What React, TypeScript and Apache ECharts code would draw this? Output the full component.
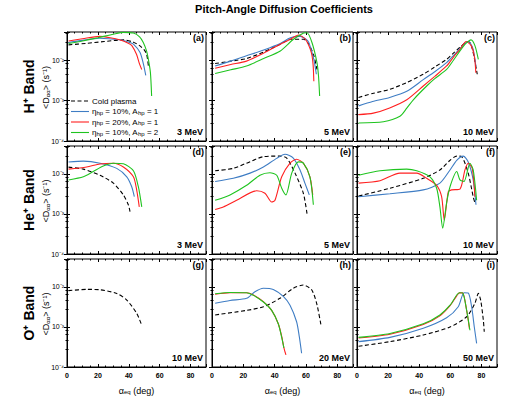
import React, { useEffect, useRef } from 'react';
import * as echarts from 'echarts';

const TITLE = 'Pitch-Angle Diffusion Coefficients';
const PANEL_LABELS = ['(a)', '(b)', '(c)', '(d)', '(e)', '(f)', '(g)', '(h)', '(i)'];
const ENERGIES = ['3 MeV', '5 MeV', '10 MeV', '3 MeV', '5 MeV', '10 MeV', '10 MeV', '20 MeV', '50 MeV'];
const ROW_LABELS = ['H⁺ Band', 'He⁺ Band', 'O⁺ Band'];
const SERIES_NAMES = ['Cold plasma', 'eta10A1', 'eta20A1', 'eta10A2'];
const LEGEND_TEXT = [
  'Cold plasma',
  'η{sub|hp} = 10%, A{sub|hp} = 1',
  'η{sub|hp} = 20%, A{sub|hp} = 1',
  'η{sub|hp} = 10%, A{sub|hp} = 2',
];
const Y_TICK_TEXT: Record<string, string> = { '-4': '10⁻⁴', '-3': '10⁻³', '-2': '10⁻²' };

// [pitch angle (deg), <D_aa> (s^-1)]
// (a) H+ band, 3 MeV
const A_COLD = [[1, 0.024], [12, 0.026], [24, 0.029], [36.5, 0.032], [43, 0.028], [47, 0.023], [50, 0.018], [51.6, 0.014], [52.7, 0.0072]];
const A_ETA10A1 = [[1, 0.0275], [10, 0.031], [21, 0.035], [34, 0.032], [40, 0.028], [43, 0.025], [47.3, 0.0155], [49.5, 0.008], [51, 0.0042]];
const A_ETA20A1 = [[1, 0.03], [10, 0.034], [21, 0.039], [28, 0.036], [34, 0.032], [40, 0.026], [42, 0.023], [45, 0.014], [47, 0.008], [48.4, 0.0059]];
const A_ETA10A2 = [[1, 0.026], [10, 0.03], [20, 0.036], [30, 0.044], [36.5, 0.049], [43, 0.047], [47, 0.038], [49.4, 0.0275], [51.5, 0.017], [52.7, 0.0105], [54, 0.005], [54.8, 0.0013]];
// (b) H+ band, 5 MeV
const B_COLD = [[2, 0.0083], [12, 0.0095], [22, 0.011], [33, 0.016], [43.6, 0.025], [50, 0.033], [58.5, 0.033], [61.8, 0.025], [65, 0.0129], [67, 0.0059]];
const B_ETA10A1 = [[2, 0.0072], [12, 0.0095], [22, 0.0129], [33, 0.018], [43.6, 0.026], [50, 0.036], [56.4, 0.039], [60, 0.033], [61.8, 0.0275], [65, 0.0105], [66.6, 0.0045]];
const B_ETA20A1 = [[2, 0.0063], [12, 0.0078], [22, 0.0095], [33, 0.015], [43.6, 0.025], [50, 0.033], [55.3, 0.042], [59.6, 0.033], [63.4, 0.0155], [64.5, 0.008], [65, 0.003]];
const B_ETA10A2 = [[2, 0.0047], [12, 0.0058], [22, 0.0072], [33, 0.011], [43.6, 0.017], [52, 0.033], [58.5, 0.047], [60.6, 0.048], [63.8, 0.0275], [67, 0.0087], [68, 0.004], [68.7, 0.0013]];
// (c) H+ band, 10 MeV
const C_COLD = [[1, 0.0012], [10, 0.0015], [21, 0.0019], [32, 0.0028], [42.6, 0.0045], [50, 0.0068], [57.6, 0.0105], [62, 0.015], [66.2, 0.021], [71.5, 0.029], [73, 0.026], [74.7, 0.0155], [77.3, 0.0045]];
const C_ETA10A1 = [[1, 0.00074], [10, 0.00095], [21, 0.0012], [32, 0.0017], [42.6, 0.0033], [50, 0.0052], [57.6, 0.0087], [62, 0.013], [66.2, 0.0195], [71.5, 0.029], [73, 0.026], [74.7, 0.0186], [76.4, 0.0072]];
const C_ETA20A1 = [[1, 0.00045], [10.5, 0.00049], [21, 0.00066], [32, 0.00105], [42.6, 0.0023], [50, 0.004], [57.6, 0.0072], [62, 0.012], [66.2, 0.0186], [70.2, 0.029], [73.4, 0.023], [75.5, 0.012], [76.4, 0.0049]];
const C_ETA10A2 = [[1, 0.00028], [17, 0.0003], [27.6, 0.00041], [32, 0.00065], [36.2, 0.00105], [44.8, 0.0023], [50, 0.0035], [57.6, 0.0059], [62, 0.01], [66.2, 0.017], [70, 0.026], [73.3, 0.032], [75.8, 0.023], [78, 0.0105]];
// (d) He+ band, 3 MeV
const D_COLD = [[1, 0.0148], [10.6, 0.0132], [21.4, 0.0093], [30, 0.0059], [36.5, 0.003], [39.7, 0.0017], [40.8, 0.00115]];
const D_ETA10A1 = [[1, 0.02], [10.6, 0.021], [21.4, 0.0186], [32.2, 0.0138], [38.7, 0.0085], [41.9, 0.0048], [43.6, 0.0027]];
const D_ETA20A1 = [[1, 0.0132], [12.7, 0.015], [21.4, 0.0178], [30, 0.0186], [36.5, 0.015], [43, 0.0085], [45.1, 0.004], [46.8, 0.0015]];
const D_ETA10A2 = [[1, 0.0071], [10.6, 0.0085], [17, 0.0115], [23.5, 0.0158], [30, 0.0186], [36.5, 0.018], [43, 0.012], [46.2, 0.0048], [48.4, 0.0015]];
// (e) He+ band, 5 MeV
const E_COLD = [[2, 0.012], [13.6, 0.0138], [22, 0.0186], [32.8, 0.027], [43.4, 0.028], [47.7, 0.025], [53, 0.0105], [58.3, 0.0033], [60.8, 0.00093]];
const E_ETA10A1 = [[2, 0.0065], [13.6, 0.0078], [24.3, 0.0105], [32.8, 0.015], [41.3, 0.0245], [46.6, 0.031], [51.9, 0.025], [56.2, 0.0126], [59.3, 0.0059], [62.1, 0.003]];
const E_ETA20A1 = [[2, 0.0013], [7.2, 0.0015], [15.7, 0.0022], [28.5, 0.0038], [33.8, 0.0033], [38.1, 0.002], [40.2, 0.0022], [44.5, 0.0085], [49.8, 0.0186], [54, 0.0234], [58.3, 0.0186], [62.5, 0.0085], [64.3, 0.003]];
const E_ETA10A2 = [[2, 0.0022], [11.5, 0.003], [22.1, 0.0052], [30.6, 0.0093], [37, 0.0107], [41.3, 0.0093], [44.5, 0.0044], [47.2, 0.003], [50.9, 0.0105], [55.1, 0.02], [58.3, 0.0186], [62.5, 0.0085], [64.7, 0.0017]];
// (f) He+ band, 10 MeV
const F_COLD = [[1, 0.0028], [21.2, 0.0044], [42.6, 0.0078], [53.3, 0.0126], [59.8, 0.022], [64.1, 0.028], [67.3, 0.027], [71.5, 0.0105], [74.7, 0.0027], [75.8, 0.0019]];
const F_ETA10A1 = [[1, 0.0027], [21.2, 0.0032], [42.6, 0.004], [53.3, 0.0059], [59.8, 0.0126], [64.1, 0.022], [68.3, 0.028], [71.5, 0.02], [74.7, 0.0071], [76.5, 0.0017]];
const F_ETA20A1 = [[1, 0.0059], [14.8, 0.0068], [27.6, 0.0105], [38.4, 0.0105], [44.8, 0.0078], [51.2, 0.0052], [54.4, 0.0027], [56.1, 0.0007], [58.7, 0.0036], [60.8, 0.004], [66.2, 0.0042], [69.4, 0.0126], [71.5, 0.0186], [74.1, 0.0138], [75.8, 0.0027]];
const F_ETA10A2 = [[1, 0.0093], [14.8, 0.012], [31.9, 0.0132], [38.4, 0.012], [46.9, 0.0085], [51.2, 0.0044], [53.3, 0.0015], [55.1, 0.00044], [57.6, 0.0019], [59.8, 0.0048], [64.1, 0.0115], [66.2, 0.0071], [68.8, 0.0065], [72.6, 0.0186], [74.7, 0.0126], [76.9, 0.0022]];
// (g) O+ band, 10 MeV
const G_COLD = [[1, 0.0081], [12.7, 0.0087], [21.4, 0.0085], [32.2, 0.0069], [38.7, 0.0047], [45.1, 0.0022], [48.4, 0.0011]];
// (h) O+ band, 20 MeV
const H_COLD = [[2, 0.002], [22.1, 0.0026], [32.8, 0.0032], [43.4, 0.0052], [51.9, 0.0093], [58.3, 0.0112], [63.6, 0.0085], [66.8, 0.0039], [69.6, 0.0011]];
const H_ETA10A1 = [[2, 0.0039], [11.5, 0.0046], [22.1, 0.0052], [27.4, 0.0076], [32.8, 0.0093], [39.1, 0.0087], [45.5, 0.0058], [49.8, 0.0035], [54, 0.00135], [55.7, 0.00058], [57.2, 0.00022]];
const H_ETA20A1 = [[2, 0.0066], [11.5, 0.0072], [22.1, 0.0072], [26.4, 0.0063], [32.8, 0.0043], [38.1, 0.0026], [42.3, 0.0012], [44.5, 0.00058], [45.9, 0.0003], [47.2, 0.0002]];
const H_ETA10A2 = [[2, 0.0068], [11.5, 0.0073], [22.1, 0.0072], [26.4, 0.0062], [32.8, 0.0042], [38.1, 0.0026], [42.3, 0.0012], [44.5, 0.00055], [45.9, 0.0003]];
// (i) O+ band, 50 MeV
const I_COLD = [[1, 0.00033], [21.2, 0.00043], [42.6, 0.00063], [59.8, 0.001], [70.5, 0.0018], [75.8, 0.0039], [78, 0.0069], [79.5, 0.0047], [81.2, 0.0015], [81.8, 0.00076]];
const I_ETA10A1 = [[1, 0.00043], [21.2, 0.00055], [42.6, 0.00093], [57.6, 0.0017], [65.1, 0.0032], [68.8, 0.0072], [71.5, 0.0071], [73.7, 0.0032], [75.4, 0.001], [76.9, 0.00039]];
const I_ETA20A1 = [[1, 0.00053], [21.2, 0.00066], [42.6, 0.00115], [53.3, 0.0019], [59.8, 0.0034], [64.1, 0.006], [65.8, 0.0071], [67.9, 0.0071], [70.5, 0.0026], [72.3, 0.0009]];
const I_ETA10A2 = [[1, 0.00055], [21.2, 0.00069], [42.6, 0.0012], [53.3, 0.002], [59.8, 0.0035], [64.1, 0.0063], [65.8, 0.0072], [67.9, 0.0071], [70.5, 0.0026], [72.6, 0.00083]];

const PANELS: (number[][] | null)[][] = [
  [A_COLD, A_ETA10A1, A_ETA20A1, A_ETA10A2],
  [B_COLD, B_ETA10A1, B_ETA20A1, B_ETA10A2],
  [C_COLD, C_ETA10A1, C_ETA20A1, C_ETA10A2],
  [D_COLD, D_ETA10A1, D_ETA20A1, D_ETA10A2],
  [E_COLD, E_ETA10A1, E_ETA20A1, E_ETA10A2],
  [F_COLD, F_ETA10A1, F_ETA20A1, F_ETA10A2],
  [G_COLD, null, null, null],
  [H_COLD, H_ETA10A1, H_ETA20A1, H_ETA10A2],
  [I_COLD, I_ETA10A1, I_ETA20A1, I_ETA10A2],
];

const FONT = '"Liberation Sans", Arial, Helvetica, sans-serif';
const COLORS = ['#000000', '#3f7dc4', '#ff2020', '#1fc41f'];
const DASH = [4, 2.5];
const LEFTS = [67, 212, 357];
const WIDTHS = [139, 141, 140];
const TOPS = [32, 146, 259];
const HEIGHTS = [109, 108, 108];

function buildOption() {
  const grid: any[] = [];
  const xAxis: any[] = [];
  const yAxis: any[] = [];
  const series: any[] = [];
  const graphic: any[] = [];
  const tickStyle = { color: '#000' };

  for (let p = 0; p < 9; p++) {
    const r = Math.floor(p / 3);
    const c = p % 3;
    grid.push({
      left: LEFTS[c], top: TOPS[r], width: WIDTHS[c], height: HEIGHTS[r],
      show: true, borderColor: '#000', borderWidth: 1, backgroundColor: 'transparent',
    });
    xAxis.push({
      type: 'value', gridIndex: p, min: 0, max: 90, interval: 20,
      axisLine: { show: true, lineStyle: { color: '#000', width: 1 } },
      axisTick: { show: true, inside: true, length: 3, lineStyle: tickStyle },
      minorTick: { show: true, splitNumber: 4, length: 1.5, lineStyle: tickStyle },
      splitLine: { show: false },
      axisLabel: {
        show: r === 2, showMaxLabel: false, fontSize: 7, color: '#000', margin: 5,
        fontFamily: FONT, fontWeight: 'bold',
      },
      name: r === 2 ? 'α{sub|eq} (deg)' : '',
      nameLocation: 'middle', nameGap: 19,
      nameTextStyle: {
        fontSize: 9, color: '#000', fontFamily: FONT,
        rich: { sub: { fontSize: 6, verticalAlign: 'bottom', fontFamily: FONT, color: '#000' } },
      },
    });
    yAxis.push({
      type: 'log', logBase: 10, gridIndex: p, min: 1e-4, max: 0.05,
      axisLine: { show: true, lineStyle: { color: '#000', width: 1 } },
      axisTick: { show: true, inside: true, length: 3, lineStyle: tickStyle },
      minorTick: { show: true, splitNumber: 5, length: 1.5, lineStyle: tickStyle },
      splitLine: { show: false },
      axisLabel: {
        show: c === 0, showMaxLabel: false, fontSize: 7, color: '#000', margin: 3,
        fontFamily: FONT,
        formatter: (v: number) => {
          const e = Math.log10(v);
          const k = Math.round(e);
          if (Math.abs(e - k) > 0.01) return '';
          return Y_TICK_TEXT[String(k)] || '';
        },
      },
    });
    PANELS[p].forEach((d, k) => {
      if (!d) return;
      series.push({
        type: 'line', name: SERIES_NAMES[k], xAxisIndex: p, yAxisIndex: p,
        data: d, showSymbol: false, symbol: 'none', smooth: 0.25,
        lineStyle: { color: COLORS[k], width: 1.1, type: k === 0 ? DASH : 'solid' },
        itemStyle: { color: COLORS[k] },
        z: 2 + k,
      });
    });
    graphic.push({
      type: 'text', x: LEFTS[c] + WIDTHS[c] - 2, y: TOPS[r] + 6,
      style: { text: PANEL_LABELS[p], font: `bold 9px ${FONT}`, fill: '#000', align: 'right', verticalAlign: 'middle' },
    });
    graphic.push({
      type: 'text', x: LEFTS[c] + WIDTHS[c] - 3, y: TOPS[r] + HEIGHTS[r] - 9,
      style: { text: ENERGIES[p], font: `bold 9px ${FONT}`, fill: '#000', align: 'right', verticalAlign: 'middle' },
    });
  }

  // mirrored tick marks on the top and right borders of every panel
  for (let p = 0; p < 9; p++) {
    xAxis.push({
      type: 'value', gridIndex: p, position: 'top', min: 0, max: 90, interval: 20,
      axisLine: { show: false },
      axisTick: { show: true, inside: true, length: 3, lineStyle: tickStyle },
      minorTick: { show: true, splitNumber: 4, length: 1.5, lineStyle: tickStyle },
      splitLine: { show: false }, axisLabel: { show: false },
    });
    yAxis.push({
      type: 'log', logBase: 10, gridIndex: p, position: 'right', min: 1e-4, max: 0.05,
      axisLine: { show: false },
      axisTick: { show: true, inside: true, length: 3, lineStyle: tickStyle },
      minorTick: { show: true, splitNumber: 5, length: 1.5, lineStyle: tickStyle },
      splitLine: { show: false }, axisLabel: { show: false },
    });
  }

  // legend (drawn inside panel a)
  for (let k = 0; k < 4; k++) {
    const ly = 101 + k * 10.5;
    graphic.push({
      type: 'line', shape: { x1: 71, y1: ly, x2: 89, y2: ly },
      style: { stroke: COLORS[k], lineWidth: 1.1, lineDash: k === 0 ? DASH : null },
    });
    graphic.push({
      type: 'text', x: 92, y: ly,
      style: {
        text: LEGEND_TEXT[k], font: `8px ${FONT}`, fill: '#000', align: 'left', verticalAlign: 'middle',
        rich: { sub: { fontSize: 6, verticalAlign: 'bottom', fontFamily: FONT, fill: '#000' } },
      },
    });
  }

  for (let r = 0; r < 3; r++) {
    const cy = TOPS[r] + HEIGHTS[r] / 2;
    graphic.push({
      type: 'text', x: 29, y: cy, rotation: Math.PI / 2,
      style: { text: ROW_LABELS[r], font: `bold 14px ${FONT}`, fill: '#000', align: 'center', verticalAlign: 'middle' },
    });
    graphic.push({
      type: 'text', x: 46, y: cy + 1, rotation: Math.PI / 2,
      style: {
        text: '<D{sub|αα}> (s⁻¹)', font: `9px ${FONT}`, fill: '#000', align: 'center', verticalAlign: 'middle',
        rich: { sub: { fontSize: 6, verticalAlign: 'bottom', fontFamily: FONT, fill: '#000' } },
      },
    });
  }

  graphic.push({
    type: 'text', x: 284, y: 9,
    style: { text: TITLE, font: `bold 11px ${FONT}`, fill: '#000', align: 'center', verticalAlign: 'middle' },
  });

  return {
    animation: false,
    backgroundColor: '#fff',
    grid, xAxis, yAxis, series, graphic,
  };
}

export default function App() {
  const ref = useRef<HTMLDivElement>(null);
  useEffect(() => {
    if (!ref.current) return;
    const chart = echarts.init(ref.current, null, { renderer: 'svg' });
    chart.setOption(buildOption() as any);
    return () => chart.dispose();
  }, []);
  return <div ref={ref} style={{ position: 'absolute', left: 0, top: 0, width: 513, height: 399 }} />;
}
